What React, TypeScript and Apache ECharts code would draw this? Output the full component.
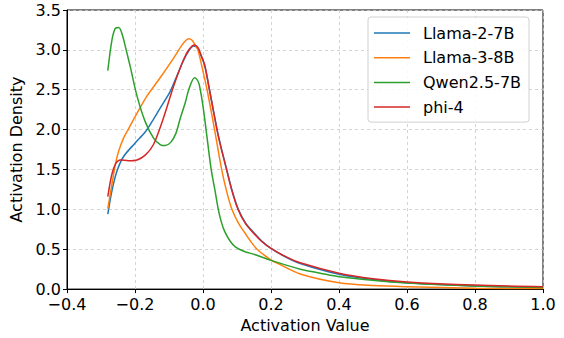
import React, { useEffect, useRef } from "react";
import * as echarts from "echarts";

const seriesNames = ["Llama-2-7B", "Llama-3-8B", "Qwen2.5-7B", "phi-4"];
const seriesColors = ["#1f77b4", "#ff7f0e", "#2ca02c", "#d62728"];

const llama2: [number, number][] = [
  [-0.28, 0.94], [-0.268, 1.23], [-0.253, 1.48], [-0.234, 1.66], [-0.2, 1.83],
  [-0.17, 1.97], [-0.15, 2.1], [-0.126, 2.27], [-0.1, 2.45], [-0.086, 2.58],
  [-0.057, 2.87], [-0.04, 3.0], [-0.028, 3.05], [-0.015, 3.02], [-0.008, 2.95],
  [0.005, 2.8], [0.019, 2.5], [0.041, 2.01], [0.052, 1.8], [0.068, 1.53],
  [0.084, 1.26], [0.103, 1.01], [0.125, 0.83], [0.149, 0.71], [0.172, 0.605],
  [0.2, 0.51], [0.242, 0.405], [0.286, 0.32], [0.4, 0.185], [0.5, 0.12],
  [0.6, 0.08], [0.8, 0.04], [1.0, 0.02],
];

const llama3: [number, number][] = [
  [-0.28, 1.01], [-0.268, 1.31], [-0.258, 1.56], [-0.248, 1.73], [-0.234, 1.89],
  [-0.219, 2.01], [-0.2, 2.16], [-0.165, 2.42], [-0.126, 2.65], [-0.086, 2.9],
  [-0.062, 3.06], [-0.05, 3.12], [-0.042, 3.14], [-0.032, 3.12], [-0.023, 3.06],
  [-0.015, 3.0], [0.0, 2.73], [0.012, 2.5], [0.034, 2.0], [0.054, 1.52],
  [0.068, 1.25], [0.085, 1.0], [0.105, 0.82], [0.124, 0.7], [0.14, 0.6],
  [0.159, 0.5], [0.185, 0.41], [0.2, 0.365], [0.218, 0.325], [0.286, 0.19],
  [0.4, 0.08], [0.5, 0.045], [0.6, 0.03], [0.8, 0.012], [1.0, 0.006],
];

const qwen: [number, number][] = [
  [-0.28, 2.74], [-0.268, 3.12], [-0.258, 3.27], [-0.248, 3.28], [-0.238, 3.2],
  [-0.226, 3.0], [-0.214, 2.79], [-0.194, 2.42], [-0.17, 2.1], [-0.145, 1.89],
  [-0.125, 1.81], [-0.111, 1.8], [-0.095, 1.84], [-0.08, 1.95], [-0.067, 2.14],
  [-0.052, 2.34], [-0.042, 2.5], [-0.025, 2.65], [-0.018, 2.63], [-0.012, 2.58],
  [-0.008, 2.5], [-0.003, 2.38], [0.003, 2.2], [0.009, 2.0], [0.014, 1.83],
  [0.024, 1.5], [0.036, 1.22], [0.045, 1.0], [0.054, 0.84], [0.064, 0.72],
  [0.08, 0.6], [0.095, 0.53], [0.12, 0.475], [0.154, 0.43], [0.2, 0.36],
  [0.286, 0.25], [0.345, 0.2], [0.4, 0.155], [0.6, 0.075], [0.8, 0.04], [1.0, 0.02],
];

const phi4: [number, number][] = [
  [-0.28, 1.16], [-0.268, 1.44], [-0.256, 1.58], [-0.243, 1.62], [-0.219, 1.61],
  [-0.194, 1.62], [-0.17, 1.68], [-0.146, 1.81], [-0.116, 2.15], [-0.086, 2.55],
  [-0.057, 2.88], [-0.04, 3.01], [-0.025, 3.06], [-0.015, 3.03], [-0.008, 2.96],
  [0.005, 2.81], [0.019, 2.5], [0.041, 2.0], [0.052, 1.79], [0.068, 1.52],
  [0.084, 1.25], [0.103, 1.0], [0.125, 0.82], [0.149, 0.7], [0.172, 0.6],
  [0.2, 0.51], [0.242, 0.41], [0.286, 0.33], [0.4, 0.2], [0.5, 0.13],
  [0.6, 0.09], [0.8, 0.05], [1.0, 0.03],
];

const seriesData = [llama2, llama3, qwen, phi4];

const FONT = "DejaVu Sans";

function fmt(v: number): string {
  const n = Math.abs(v) < 1e-9 ? 0 : v;
  return n.toFixed(1).replace("-", "\u2212");
}

export default function App() {
  const ref = useRef<HTMLDivElement>(null);
  useEffect(() => {
    if (!ref.current) return;
    const chart = echarts.init(ref.current, null, { renderer: "svg" });
    chart.setOption({
      animation: false,
      backgroundColor: "#ffffff",
      textStyle: { fontFamily: FONT },
      grid: {
        left: 67,
        right: 21,
        top: 10,
        bottom: 45,
        show: true,
        borderColor: "#000000",
        borderWidth: 1,
        backgroundColor: "transparent",
      },
      legend: {
        show: true,
        orient: "vertical",
        left: 368,
        top: 17,
        padding: [8, 8, 7, 6],
        itemGap: 8.7,
        itemWidth: 36,
        itemHeight: 1.5,
        icon: "rect",
        backgroundColor: "rgba(255,255,255,0.85)",
        borderColor: "#d0d0d0",
        borderWidth: 1,
        borderRadius: 3,
        textStyle: {
          fontFamily: FONT,
          fontSize: 16,
          color: "#000000",
          padding: [0, 0, 0, 8],
        },
        data: seriesNames,
      },
      xAxis: {
        type: "value",
        min: -0.4,
        max: 1.0,
        interval: 0.2,
        name: "Activation Value",
        nameLocation: "middle",
        nameGap: 25,
        nameTextStyle: { fontFamily: FONT, fontSize: 16, color: "#000000" },
        axisLine: { show: true, onZero: false, lineStyle: { color: "#000000", width: 1 } },
        axisTick: { show: true, inside: false, length: 4, lineStyle: { color: "#000000" } },
        axisLabel: {
          fontFamily: FONT,
          fontSize: 16,
          color: "#000000",
          margin: 7,
          formatter: (v: number) => fmt(v),
        },
        splitLine: { show: true, lineStyle: { color: "#c8c8c8", type: [3, 3], width: 0.8 } },
      },
      yAxis: {
        type: "value",
        min: 0,
        max: 3.5,
        interval: 0.5,
        name: "Activation Density",
        nameLocation: "middle",
        nameGap: 38,
        nameTextStyle: { fontFamily: FONT, fontSize: 16, color: "#000000" },
        axisLine: { show: true, onZero: false, lineStyle: { color: "#000000", width: 1 } },
        axisTick: { show: true, inside: false, length: 4, lineStyle: { color: "#000000" } },
        axisLabel: {
          fontFamily: FONT,
          fontSize: 16,
          color: "#000000",
          margin: 6,
          formatter: (v: number) => fmt(v),
        },
        splitLine: { show: true, lineStyle: { color: "#c8c8c8", type: [3, 3], width: 0.8 } },
      },
      series: seriesNames.map((name, i) => ({
        name,
        type: "line",
        data: seriesData[i],
        showSymbol: false,
        symbol: "none",
        smooth: 0.3,
        clip: true,
        color: seriesColors[i],
        lineStyle: { color: seriesColors[i], width: 1.5 },
      })),
    });
    return () => chart.dispose();
  }, []);
  return (
    <div
      ref={ref}
      style={{ position: "fixed", left: 0, top: 0, width: 564, height: 338 }}
    />
  );
}
